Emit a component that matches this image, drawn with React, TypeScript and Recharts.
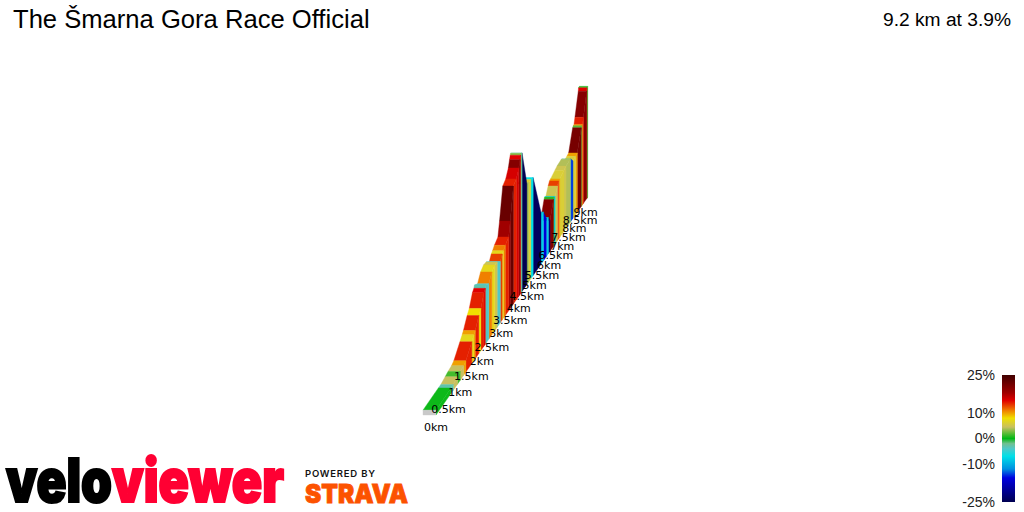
import { Bar, BarChart, Scatter, ScatterChart, XAxis, YAxis } from 'recharts';

const title = 'The Šmarna Gora Race Official';
const summary = '9.2 km at 3.9%';

// profile: distance (km), elevation (m)
const km = [
  0, 0.6, 0.7, 0.88, 1, 1.15, 1.25, 1.52, 1.62, 1.68,
  1.85, 1.95, 2.1, 2.17, 2.2, 2.35, 2.5, 2.65, 2.78, 2.95,
  3.05, 3.12, 3.22, 3.41, 3.5, 3.68, 3.85, 4, 4.07, 4.11,
  4.13, 4.2, 4.5, 4.6, 4.75, 4.9, 5.43, 5.6, 5.8, 5.95,
  6.07, 6.32, 6.36, 6.45, 6.62, 6.72, 6.8, 7.14, 7.3, 7.63,
  7.68, 7.88, 8.1, 8.25, 8.6, 8.65, 8.72, 8.8, 9.1, 9.12,
  9.2,
];
const elevation = [
  310, 312, 312, 316, 319, 321, 325, 349, 358, 364,
  387, 397, 424, 430, 436, 430, 449, 457, 457, 448,
  461, 465, 473, 483, 518, 597, 607, 628, 646, 656,
  660, 658, 564, 562, 564, 562, 442, 434, 407, 401,
  387, 434, 439, 436, 458, 468, 470, 480, 485, 490,
  490, 475, 479, 483, 547, 551, 553, 572, 644, 654,
  656,
];
// gradient (%) of the section that ends at the same index in km
const gradient = [
  0.3, -3, 4.5, 1.5, 4.5, 10, 14, 7, 10,
  14, 8, 14, 15, -3, -4, 11, 7, 5, -4,
  13, 7, 11, 14, 18, 22, 14, 15.5, 20, 15,
  3, -3, -25, 3.5, 6, -7, -24, -8, -16, -8,
  -22, 20, 1, -8, 5, 13, 10, 6, 5, 4,
  -2, -14, 6, 10, 21, 2, 11, 14, 20, 15,
  1,
];

const kmLabels = [0, 0.5, 1, 1.5, 2, 2.5, 3, 3.5, 4, 4.5, 5, 5.5, 6, 6.5, 7, 7.5, 8, 8.5, 9];

const legendTicks = [25, 10, 0, -10, -25];
const gradeStops = [25, 18, 15, 11, 8, 4.5, 0, -2, -4, -7, -12, -15.5, -25];
const gradeColors = [
  '#400000', '#a00000', '#e00000', '#f08000', '#f0e000', '#c8c060', '#00b814',
  '#70c090', '#50c8c8', '#00e0e8', '#0090e0', '#0000e0', '#000050',
];

const WIDTH = 1024;
const HEIGHT = 512;

const hex = (c: string) => [1, 3, 5].map((i) => parseInt(c.slice(i, i + 2), 16));

const colorFor = (grade: number) => {
  const g = Math.max(-25, Math.min(25, grade));
  let i = 0;
  while (i < gradeStops.length - 2 && g < gradeStops[i + 1]) i++;
  const t = (gradeStops[i] - g) / (gradeStops[i] - gradeStops[i + 1]);
  const a = hex(gradeColors[i]);
  const b = hex(gradeColors[i + 1]);
  return `rgb(${a.map((v, n) => Math.round(v + (b[n] - v) * t)).join(',')})`;
};

// perspective view along the ribbon, side = 0 is the near edge, side = 1 the far one
const project = (dist: number, side: number, height: number) => {
  const s = 1 / (1 + 0.061 * dist);
  return {
    x: 858 - 422 * s - 13 * s * side,
    y: -191 + 606 * s - 0.486 * s * height,
  };
};

type Face = { color: string };
const faces: Face[] = [];
const vertices: { x: number; y: number }[] = [];

const addFace = (color: string, pts: { x: number; y: number }[]) => {
  faces.push({ color });
  vertices.push(...pts);
};

// painted from the far end to the start so nearer sections cover farther ones
for (let i = gradient.length - 1; i >= 0; i--) {
  const h0 = elevation[i] - 300;
  const h1 = elevation[i + 1] - 300;
  const color = colorFor(gradient[i]);
  const a = project(km[i], 1, h0);
  const b = project(km[i], 0, h0);
  const c = project(km[i + 1], 0, h1);
  const d = project(km[i + 1], 1, h1);
  if (c.y <= b.y) addFace(color, [a, b, c, d]);
  addFace(color, [b, project(km[i], 0, 0), project(km[i + 1], 0, 0), c]);
}
addFace('#c9c9c9', [
  project(0, 1, elevation[0] - 300),
  project(0, 0, elevation[0] - 300),
  project(0, 0, 0),
  project(0, 1, 0),
]);

const labelPoints = kmLabels.map((k) => ({ ...project(k, 0, 0), label: `${k}km` }));

const renderFaces = (props: { points?: { x: number; y: number }[] }) => {
  const pts = props.points ?? [];
  return (
    <g key="faces">
      {faces.map((f, i) => (
        <polygon
          key={i}
          points={pts
            .slice(i * 4, i * 4 + 4)
            .map((p) => `${p.x},${p.y}`)
            .join(' ')}
          fill={f.color}
          stroke={f.color}
          strokeWidth={0.4}
        />
      ))}
    </g>
  );
};

const KmLabel = (props: any) => (
  <text
    x={props.cx}
    y={props.cy + 16}
    textAnchor="middle"
    fontFamily="DejaVu Sans"
    fontSize={11}
    fill="#000"
  >
    {props.payload.label}
  </text>
);

const LegendBar = () => (
  <BarChart
    width={84}
    height={147}
    data={[{ range: [-25, 25] }]}
    margin={{ top: 10, right: 9, bottom: 10, left: 0 }}
    barCategoryGap={0}
    style={{ position: 'absolute', left: 940, top: 365 }}
  >
    <defs>
      <linearGradient id="gradeScale" x1="0" y1="0" x2="0" y2="1">
        {gradeStops.map((g, i) => (
          <stop key={g} offset={(25 - g) / 50} stopColor={gradeColors[i]} />
        ))}
      </linearGradient>
    </defs>
    <XAxis hide />
    <YAxis
      width={62}
      domain={[-25, 25]}
      ticks={legendTicks}
      interval={0}
      axisLine={false}
      tickLine={false}
      tickSize={0}
      tickMargin={7}
      tickFormatter={(v) => `${v}%`}
      tick={{ fill: '#222', fontSize: 14, fontFamily: 'Liberation Sans' }}
    />
    <Bar dataKey="range" fill="url(#gradeScale)" isAnimationActive={false} />
  </BarChart>
);

const Logos = () => (
  <svg width={WIDTH} height={HEIGHT} style={{ position: 'absolute', left: 0, top: 0 }}>
    <text x={13} y={28} fontFamily="Liberation Sans" fontSize={25.6} fill="#000">
      {title}
    </text>
    <text x={1011} y={26} textAnchor="end" fontFamily="Liberation Sans" fontSize={19.2} fill="#000">
      {summary}
    </text>
    <g fontFamily="Inter" fontWeight={900} fontSize={60} strokeWidth={2.2}>
      <text x={6} y={502} textLength={106} lengthAdjust="spacingAndGlyphs" fill="#000" stroke="#000">
        velo
      </text>
      <text x={112} y={502} textLength={172} lengthAdjust="spacingAndGlyphs" fill="#ff0033" stroke="#ff0033">
        viewer
      </text>
    </g>
    <text x={305} y={477} textLength={70} fontFamily="Inter" fontWeight={600} fontSize={9.5} fill="#111">
      POWERED BY
    </text>
    <text
      x={305}
      y={503}
      textLength={103}
      lengthAdjust="spacingAndGlyphs"
      fontFamily="Inter"
      fontWeight={900}
      fontSize={26}
      fill="#fc5200"
      stroke="#fc5200"
      strokeWidth={0.8}
    >
      STRAVA
    </text>
  </svg>
);

export default function App() {
  return (
    <div style={{ position: 'absolute', left: 0, top: 0, width: WIDTH, height: HEIGHT, background: '#fff' }}>
      <ScatterChart width={WIDTH} height={HEIGHT} margin={{ top: 0, right: 0, bottom: 0, left: 0 }}>
        <XAxis type="number" dataKey="x" domain={[0, WIDTH]} hide />
        <YAxis type="number" dataKey="y" domain={[0, HEIGHT]} reversed hide />
        <Scatter data={vertices} line={renderFaces as any} shape={() => null} isAnimationActive={false} />
        <Scatter data={labelPoints} shape={KmLabel} isAnimationActive={false} />
      </ScatterChart>
      <LegendBar />
      <Logos />
    </div>
  );
}
